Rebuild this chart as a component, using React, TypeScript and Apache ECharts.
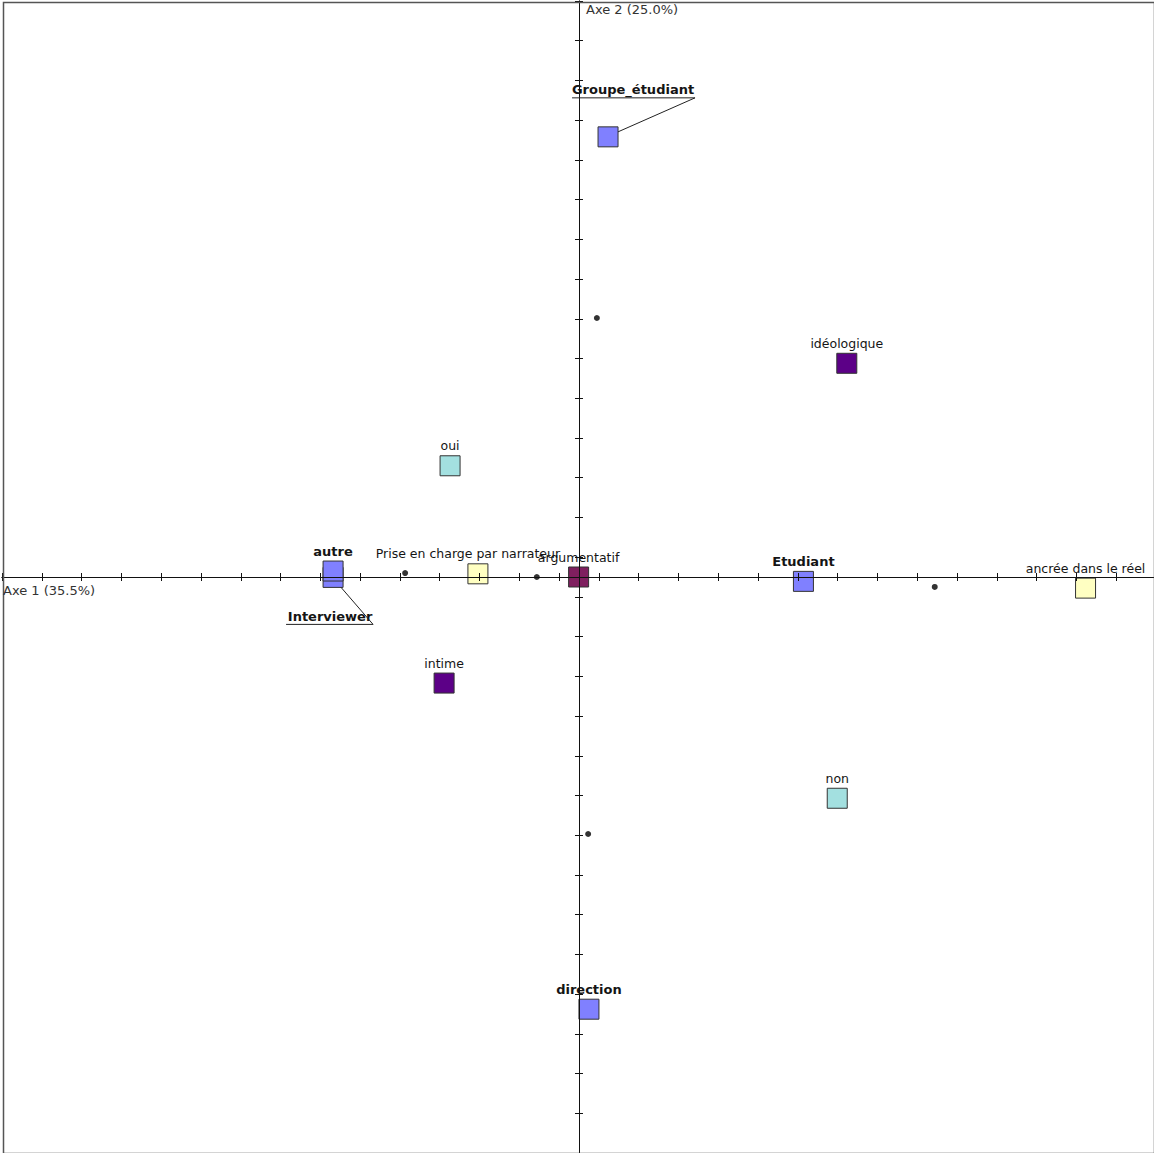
import React, { useEffect, useRef } from "react";
import * as echarts from "echarts";

// ---- Data (axis units: one tick interval = 1) ----
const locuteurNames = ["Groupe_étudiant", "Interviewer", "autre", "Etudiant", "direction"];
const locuteurX = [0.73, -6.18, -6.18, 5.64, 0.25];
const locuteurY = [11.08, -0.01, 0.15, -0.11, -10.88];

const registreNames = ["idéologique", "intime", "argumentatif"];
const registreX = [6.73, -3.39, -0.01];
const registreY = [5.38, -2.67, 0.0];

const reponseNames = ["oui", "non"];
const reponseX = [-3.24, 6.49];
const reponseY = [2.8, -5.57];

const ancrageNames = ["Prise en charge par narrateur", "ancrée dans le réel"];
const ancrageX = [-2.54, 12.73];
const ancrageY = [0.08, -0.28];

const dotX = [0.45, -4.37, -1.06, 8.94, 0.23];
const dotY = [6.52, 0.1, 0.0, -0.25, -6.47];

const axis1Title = "Axe 1 (35.5%)";
const axis2Title = "Axe 2 (25.0%)";

// names drawn with an underlined callout instead of a plain label
const calloutNames = ["Groupe_étudiant", "Interviewer"];

// ---- Styles ----
const FONT = "DejaVu Sans, Verdana, sans-serif";
const TEXT = "#151515";
const BLUE = "#8080ff";
const PURPLE = "#5c0087";
const MAROON = "#7f1f5f";
const CYAN = "#a3e0e0";
const YELLOW = "#ffffc2";

const registreColors: Record<string, string> = {
  "idéologique": PURPLE,
  intime: PURPLE,
  argumentatif: MAROON,
};
const labelOffsets: Record<string, number[]> = {
  "Prise en charge par narrateur": [-10, 0],
};
// callout geometry relative to the square centre (pixels)
const calloutStyle: Record<string, any> = {
  "Groupe_étudiant": { tx: 25, ty: -47, uy: -39, u1: -36, u2: 87, l: [87, -39, 10, -5] },
  Interviewer: { tx: -3, ty: 39, uy: 47, u1: -47, u2: 40, l: [8, 10, 40, 47] },
};

const build = (names: string[], xs: number[], ys: number[]) =>
  names.map((n, i) => ({ name: n, value: [xs[i], ys[i]] }));

const squareSeries = (name: string, data: any[], color: string, bold: boolean) => ({
  type: "scatter",
  name,
  symbol: "rect",
  symbolSize: 20,
  z: 2,
  itemStyle: { color, borderColor: "#333", borderWidth: 1, opacity: 1 },
  label: {
    show: true,
    position: "top",
    distance: 3,
    formatter: "{b}",
    color: TEXT,
    fontSize: bold ? 13 : 12.5,
    fontFamily: FONT,
    fontWeight: bold ? "bold" : "normal",
  },
  emphasis: { disabled: true },
  data,
});

export default function App() {
  const ref = useRef<HTMLDivElement>(null);

  useEffect(() => {
    if (!ref.current) return;
    const chart = echarts.init(ref.current, undefined, { renderer: "svg" });

    const locData = build(locuteurNames, locuteurX, locuteurY).map((d) =>
      calloutNames.includes(d.name) ? { ...d, label: { show: false } } : d
    );
    const regData = build(registreNames, registreX, registreY).map((d) => ({
      ...d,
      itemStyle: { color: registreColors[d.name] },
    }));
    const ancData = build(ancrageNames, ancrageX, ancrageY).map((d) =>
      labelOffsets[d.name] ? { ...d, label: { offset: labelOffsets[d.name] } } : d
    );
    const calloutData = build(locuteurNames, locuteurX, locuteurY).filter((d) =>
      calloutNames.includes(d.name)
    );

    const xAxisBase = {
      type: "value",
      min: -14.5,
      max: 14.45,
      interval: 1,
      z: 5,
      axisLine: { show: true, onZero: true, lineStyle: { color: "#111", width: 1 } },
      axisTick: { show: true, length: 4, lineStyle: { color: "#111", width: 1 } },
      axisLabel: { show: false },
      splitLine: { show: false },
    };
    const yAxisBase = { ...xAxisBase, min: -14.5, max: 14.5 };

    chart.setOption({
      animation: false,
      backgroundColor: "#ffffff",
      grid: { left: 2, top: 1, width: 1152, height: 1152, containLabel: false },
      xAxis: [
        { ...xAxisBase, position: "bottom" },
        { ...xAxisBase, position: "top" },
      ],
      yAxis: [
        { ...yAxisBase, position: "left" },
        { ...yAxisBase, position: "right" },
      ],
      graphic: [
        {
          type: "rect",
          left: 1,
          top: 0,
          shape: { width: 1151, height: 1151 },
          style: { fill: "none", stroke: "#555", lineWidth: 1.5 },
          silent: true,
          z: 100,
        },
        {
          type: "text",
          left: 3,
          top: 584,
          style: { text: axis1Title, fill: "#333", font: `13px ${FONT}` },
          z: 100,
        },
        {
          type: "text",
          left: 586,
          top: 3,
          style: { text: axis2Title, fill: "#333", font: `13px ${FONT}` },
          z: 100,
        },
      ],
      series: [
        squareSeries("ancrage", ancData, YELLOW, false),
        squareSeries("reponse", build(reponseNames, reponseX, reponseY), CYAN, false),
        squareSeries("registre", regData, PURPLE, false),
        squareSeries("locuteur", locData, BLUE, true),
        {
          type: "scatter",
          name: "points",
          symbol: "circle",
          symbolSize: 6,
          z: 3,
          itemStyle: { color: "#000" },
          label: { show: false },
          emphasis: { disabled: true },
          data: dotX.map((x, i) => [x, dotY[i]]),
        },
        {
          type: "custom",
          name: "callouts",
          z: 6,
          silent: true,
          data: calloutData,
          renderItem: (params: any, api: any) => {
            const p = api.coord([api.value(0), api.value(1)]);
            const name = calloutData[params.dataIndex].name;
            const s = calloutStyle[name];
            return {
              type: "group",
              children: [
                {
                  type: "text",
                  x: p[0] + s.tx,
                  y: p[1] + s.ty,
                  style: {
                    text: name,
                    fill: TEXT,
                    fontSize: 13,
                    fontWeight: "bold",
                    fontFamily: FONT,
                    align: "center",
                    verticalAlign: "middle",
                  },
                },
                {
                  type: "line",
                  shape: { x1: p[0] + s.u1, y1: p[1] + s.uy, x2: p[0] + s.u2, y2: p[1] + s.uy },
                  style: { stroke: "#222", lineWidth: 1 },
                },
                {
                  type: "line",
                  shape: {
                    x1: p[0] + s.l[0],
                    y1: p[1] + s.l[1],
                    x2: p[0] + s.l[2],
                    y2: p[1] + s.l[3],
                  },
                  style: { stroke: "#222", lineWidth: 1 },
                },
              ],
            };
          },
        },
      ],
    });

    return () => chart.dispose();
  }, []);

  return (
    <div
      ref={ref}
      style={{ position: "absolute", left: 0, top: 0, width: 1154, height: 1153 }}
    />
  );
}
